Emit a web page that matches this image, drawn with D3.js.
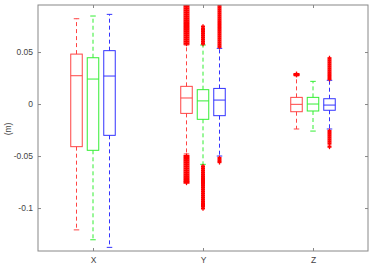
<!DOCTYPE html>
<html>
<head>
<meta charset="utf-8">
<script src="https://cdn.jsdelivr.net/npm/d3@7"></script>
<style>
  body { margin: 0; background: #fff; }
  text { font-family: "Liberation Sans", Arial, sans-serif; }
</style>
</head>
<body>
<div id="chart"></div>
<script>
// groups and series
var categories = ["X", "Y", "Z"]
var seriesColors = ["#ff4444", "#33ee33", "#3333ff"]
var yTicks = [-0.1, -0.05, 0, 0.05]

// box stats per category: [whiskerLow, q1, median, q3, whiskerHigh]
var redStats = [
  [-0.121, -0.041, 0.0272, 0.048, 0.082],
  [-0.048, -0.009, 0.0058, 0.017, 0.0567],
  [-0.024, -0.0074, -0.0003, 0.0064, 0.027]
]
var greenStats = [
  [-0.1305, -0.0445, 0.024, 0.0445, 0.0846],
  [-0.058, -0.0147, 0.003, 0.0138, 0.0567],
  [-0.026, -0.0067, 0, 0.0064, 0.0218]
]
var blueStats = [
  [-0.1378, -0.0301, 0.0269, 0.0513, 0.0862],
  [-0.05, -0.0112, 0.0038, 0.015, 0.0535],
  [-0.024, -0.006, -0.001, 0.0051, 0.0228]
]

// outliers per category
var redOut = [
  [],
  [0.058, 0.060, 0.062, 0.064, 0.066, 0.068, 0.070, 0.072, 0.074, 0.076, 0.078, 0.080,
   0.082, 0.084, 0.086, 0.088, 0.090, 0.092, 0.094, 0.096,
   -0.050, -0.052, -0.054, -0.056, -0.058, -0.060, -0.062, -0.064, -0.066, -0.068,
   -0.070, -0.072, -0.074, -0.0756],
  [0.028, 0.0288]
]
var greenOut = [
  [],
  [0.058, 0.060, 0.062, 0.064, 0.066, 0.068, 0.070, 0.072, 0.0744,
   -0.060, -0.062, -0.064, -0.066, -0.068, -0.070, -0.072, -0.074, -0.076, -0.078,
   -0.080, -0.082, -0.084, -0.086, -0.088, -0.090, -0.092, -0.094, -0.096, -0.098, -0.1003],
  []
]
var blueOut = [
  [],
  [0.055, 0.057, 0.059, 0.061, 0.063, 0.065, 0.067, 0.069, 0.071, 0.073, 0.075, 0.077,
   0.079, 0.081, 0.083, 0.085, 0.087, 0.089, 0.091, 0.093, 0.095,
   -0.052, -0.054, -0.0558],
  [0.024, 0.026, 0.028, 0.030, 0.032, 0.034, 0.036, 0.038, 0.040, 0.042, 0.044,
   -0.026, -0.028, -0.030, -0.032, -0.034, -0.036, -0.038, -0.041]
]

var allStats = [redStats, greenStats, blueStats]
var allOut = [redOut, greenOut, blueOut]
var outR = [3, 2, 2]

var W = 374, H = 280
var margin = {top: 5, right: 6, bottom: 29, left: 38}
var width = W - margin.left - margin.right
var height = H - margin.top - margin.bottom

var svg = d3.select("#chart").append("svg")
            .attr("width", W).attr("height", H)

var g = svg.append("g")
           .attr("transform", "translate(" + margin.left + "," + margin.top + ")")

var x = d3.scaleLinear().domain([0.5, 3.5]).range([0, width])
var y = d3.scaleLinear().domain([-0.1413, 0.0952]).range([height, 0])

var offsets = [-16.5, 0, 16.5]
var boxW = 11.5
var capW = 5.5

svg.append("defs").append("clipPath").attr("id", "clip")
   .append("rect").attr("width", width).attr("height", height)

var plot = g.append("g").attr("clip-path", "url(#clip)")

allStats.forEach(function(stats, s) {
  var col = seriesColors[s]
  var sg = plot.append("g").attr("stroke", col).attr("fill", "none").attr("stroke-width", 1)
  stats.forEach(function(d, i) {
    var cx = x(i + 1) + offsets[s]
    // whiskers
    sg.append("line").attr("x1", cx).attr("x2", cx).attr("y1", y(d[3])).attr("y2", y(d[4]))
      .attr("stroke-dasharray", "4,3")
    sg.append("line").attr("x1", cx).attr("x2", cx).attr("y1", y(d[1])).attr("y2", y(d[0]))
      .attr("stroke-dasharray", "4,3")
    // caps
    sg.append("line").attr("x1", cx - capW / 2).attr("x2", cx + capW / 2)
      .attr("y1", y(d[4])).attr("y2", y(d[4]))
    sg.append("line").attr("x1", cx - capW / 2).attr("x2", cx + capW / 2)
      .attr("y1", y(d[0])).attr("y2", y(d[0]))
    // box
    sg.append("rect").attr("x", cx - boxW / 2).attr("width", boxW)
      .attr("y", y(d[3])).attr("height", y(d[1]) - y(d[3]))
    // median
    sg.append("line").attr("x1", cx - boxW / 2).attr("x2", cx + boxW / 2)
      .attr("y1", y(d[2])).attr("y2", y(d[2]))
  })
})

// outliers as red plus markers
allOut.forEach(function(outs, s) {
  outs.forEach(function(vals, i) {
    var cx = x(i + 1) + offsets[s]
    var r = outR[s]
    var og = plot.append("g").attr("stroke", "#ff0000").attr("fill", "none")
    og.selectAll(".h").data(vals).enter().append("line")
      .attr("x1", cx - r).attr("x2", cx + r)
      .attr("y1", function(v) { return y(v) }).attr("y2", function(v) { return y(v) })
      .attr("stroke-width", 2.2)
    og.selectAll(".v").data(vals).enter().append("line")
      .attr("x1", cx).attr("x2", cx)
      .attr("y1", function(v) { return y(v) - 2.5 }).attr("y2", function(v) { return y(v) + 2.5 })
      .attr("stroke-width", 1.3)
  })
})

// frame and axes
var axisColor = "#888"
g.append("rect").attr("width", width).attr("height", height)
 .attr("fill", "none").attr("stroke", axisColor).attr("stroke-width", 1)

var leftAxis = g.append("g")
  .call(d3.axisLeft(y).tickValues(yTicks).tickSize(-3).tickPadding(5)
          .tickFormat(function(d) { return d === 0 ? "0" : String(d) }))
leftAxis.select(".domain").remove()
leftAxis.selectAll("line").attr("stroke", axisColor)
leftAxis.selectAll("text").attr("fill", "#444").style("font-size", "8.5px")

var rightAxis = g.append("g").attr("transform", "translate(" + width + ",0)")
  .call(d3.axisRight(y).tickValues(yTicks).tickSize(-3).tickFormat(""))
rightAxis.select(".domain").remove()
rightAxis.selectAll("line").attr("stroke", axisColor)

var bottomAxis = g.append("g").attr("transform", "translate(0," + height + ")")
  .call(d3.axisBottom(x).tickValues([1, 2, 3]).tickSize(-3).tickPadding(6)
          .tickFormat(function(d) { return categories[d - 1] }))
bottomAxis.select(".domain").remove()
bottomAxis.selectAll("line").attr("stroke", axisColor)
bottomAxis.selectAll("text").attr("fill", "#444").style("font-size", "8.5px")

var topAxis = g.append("g")
  .call(d3.axisTop(x).tickValues([1, 2, 3]).tickSize(-3).tickFormat(""))
topAxis.select(".domain").remove()
topAxis.selectAll("line").attr("stroke", axisColor)

svg.append("text")
   .attr("transform", "translate(11," + (margin.top + y(-0.024)) + ") rotate(-90)")
   .attr("text-anchor", "middle")
   .attr("fill", "#444")
   .style("font-size", "8.5px")
   .text("(m)")
</script>
</body>
</html>
